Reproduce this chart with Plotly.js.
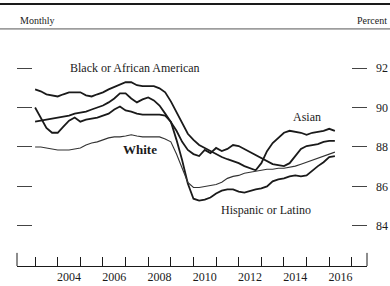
<!DOCTYPE html>
<html>
<head>
<meta charset="utf-8">
<script src="https://cdn.plot.ly/plotly-3.0.1.min.js"></script>
<style>html,body{margin:0;padding:0;background:#fff;}#chart{width:390px;height:286px;}</style>
</head>
<body>
<div id="chart"></div>
<script>
// Quarterly sample dates (decimal years)
const dates = [2003.0,2003.25,2003.5,2003.75,2004.0,2004.25,2004.5,2004.75,2005.0,2005.25,2005.5,2005.75,
  2006.0,2006.25,2006.5,2006.75,2007.0,2007.25,2007.5,2007.75,2008.0,2008.25,2008.5,2008.75,
  2009.0,2009.25,2009.5,2009.75,2010.0,2010.25,2010.5,2010.75,2011.0,2011.25,2011.5,2011.75,
  2012.0,2012.25,2012.5,2012.75,2013.0,2013.25,2013.5,2013.75,2014.0,2014.25,2014.5,2014.75,
  2015.0,2015.25,2015.5,2015.75,2016.0,2016.25];

const blackVals = [90.92,90.82,90.67,90.62,90.56,90.67,90.77,90.77,90.77,90.62,90.56,90.67,
  90.77,90.92,91.03,91.13,91.28,91.28,91.13,91.08,91.08,91.08,90.97,90.77,
  90.31,89.74,89.18,88.67,88.36,88.10,87.95,87.79,87.64,87.49,87.38,87.28,
  87.18,87.03,86.92,86.82,87.18,87.79,88.20,88.46,88.72,88.82,88.77,88.72,
  88.62,88.72,88.77,88.82,88.92,88.82];

const asianVals = [89.28,89.33,89.38,89.44,89.49,89.54,89.59,89.69,89.74,89.79,89.90,90.00,
  90.10,90.26,90.46,90.72,90.72,90.46,90.26,90.41,90.51,90.36,90.10,89.69,
  89.28,88.82,88.26,87.85,87.64,87.54,87.85,87.69,87.95,87.79,87.90,88.10,
  88.05,87.90,87.74,87.59,87.44,87.28,87.13,87.08,87.03,87.18,87.54,87.90,
  88.05,88.10,88.15,88.26,88.31,88.31];

const hispanicVals = [90.00,89.49,88.97,88.72,88.72,89.03,89.33,89.49,89.28,89.38,89.44,89.49,
  89.59,89.69,89.90,90.05,89.85,89.79,89.69,89.64,89.64,89.64,89.64,89.59,
  89.28,88.36,87.33,86.15,85.38,85.28,85.33,85.44,85.64,85.79,85.85,85.85,
  85.74,85.69,85.79,85.85,85.90,86.00,86.26,86.36,86.41,86.51,86.56,86.51,
  86.56,86.82,87.03,87.23,87.49,87.54];

const whiteVals = [88.00,88.00,87.95,87.90,87.85,87.85,87.85,87.90,87.95,88.10,88.20,88.26,
  88.36,88.46,88.51,88.51,88.56,88.62,88.56,88.51,88.51,88.51,88.51,88.41,
  88.26,87.64,86.92,86.21,85.95,85.95,86.00,86.05,86.10,86.21,86.41,86.51,
  86.56,86.67,86.72,86.77,86.82,86.87,86.87,86.92,86.92,86.97,87.03,87.13,
  87.23,87.33,87.44,87.54,87.64,87.74];

const yTicks = [84,86,88,90,92];
const yearTicks = [2003,2004,2005,2006,2007,2008,2009,2010,2011,2012,2013,2014,2015,2016,2017];
const labelYears = [2004,2006,2008,2010,2012,2014,2016];
const labelPos = labelYears.map(y => y + 0.5);
const labelText = labelYears.map(String);

const serif = 'Liberation Serif, Times New Roman, serif';
const ink = '#1a1a1a';

const thick = {color: ink, width: 1.8};
const traces = [
  {x: dates, y: blackVals, type: 'scatter', mode: 'lines', line: thick, name: 'Black or African American'},
  {x: dates, y: asianVals, type: 'scatter', mode: 'lines', line: thick, name: 'Asian'},
  {x: dates, y: hispanicVals, type: 'scatter', mode: 'lines', line: thick, name: 'Hispanic or Latino'},
  {x: dates, y: whiteVals, type: 'scatter', mode: 'lines', line: {color: '#333', width: 1.1}, name: 'White', yaxis: 'y2'}
];

const yr = [81.97, 93.42];
const layout = {
  width: 390, height: 286,
  margin: {l: 17, r: 23, t: 40, b: 20},
  paper_bgcolor: '#fff', plot_bgcolor: '#fff',
  showlegend: false,
  font: {family: serif, color: ink, size: 12},
  xaxis: {
    range: [2002.2, 2017.67], showgrid: false, zeroline: false,
    tickmode: 'array', tickvals: labelPos, ticktext: labelText, ticks: '',
    tickfont: {family: serif, size: 12, color: ink},
    showline: true, linecolor: ink, linewidth: 1,
    minor: {tickmode: 'array', tickvals: yearTicks, ticks: 'inside', ticklen: 9, tickwidth: 1, tickcolor: ink, showgrid: false}
  },
  yaxis: {
    range: yr, showgrid: false, zeroline: false, showline: false,
    tickmode: 'array', tickvals: yTicks, ticks: 'inside', ticklen: 15, tickwidth: 1, tickcolor: '#444',
    showticklabels: false
  },
  yaxis2: {
    range: yr, overlaying: 'y', side: 'right', showgrid: false, zeroline: false, showline: false,
    tickmode: 'array', tickvals: yTicks, ticks: 'inside', ticklen: 15, tickwidth: 1, tickcolor: '#444',
    tickfont: {family: serif, size: 12, color: ink}, ticklabelstandoff: 8
  },
  shapes: [
    {type: 'line', xref: 'paper', yref: 'paper', x0: -0.06, x1: 1.08, y0: 1.159, y1: 1.159, line: {color: ink, width: 2}},
    {type: 'line', xref: 'paper', yref: 'paper', x0: -0.06, x1: 1.08, y0: 1.049, y1: 1.049, line: {color: '#555', width: 1}},
    {type: 'line', xref: 'paper', yref: 'paper', x0: 0, x1: 0, y0: 0, y1: 0.058, line: {color: ink, width: 1}},
    {type: 'line', xref: 'paper', yref: 'paper', x0: 1, x1: 1, y0: 0, y1: 0.058, line: {color: ink, width: 1}}
  ],
  annotations: [
    {xref: 'paper', yref: 'paper', x: 0.003, y: 1.088, xanchor: 'left', yanchor: 'middle', text: 'Monthly', showarrow: false, font: {family: serif, size: 10, color: ink}},
    {xref: 'paper', yref: 'paper', x: 1.0629, y: 1.088, xanchor: 'right', yanchor: 'middle', text: 'Percent', showarrow: false, font: {family: serif, size: 10, color: ink}},
    {x: 2007.42, y: 92.0, xanchor: 'center', yanchor: 'middle', text: 'Black or African American', showarrow: false, font: {family: serif, size: 12, color: ink}},
    {x: 2007.64, y: 87.85, xanchor: 'center', yanchor: 'middle', text: '<b>White</b>', showarrow: false, font: {family: serif, size: 13, color: ink}},
    {x: 2015.02, y: 89.54, xanchor: 'center', yanchor: 'middle', text: 'Asian', showarrow: false, font: {family: serif, size: 12, color: ink}},
    {x: 2013.2, y: 84.82, xanchor: 'center', yanchor: 'middle', text: 'Hispanic or Latino', showarrow: false, font: {family: serif, size: 12, color: ink}}
  ]
};

Plotly.newPlot('chart', traces, layout, {staticPlot: true, displayModeBar: false});
</script>
</body>
</html>
